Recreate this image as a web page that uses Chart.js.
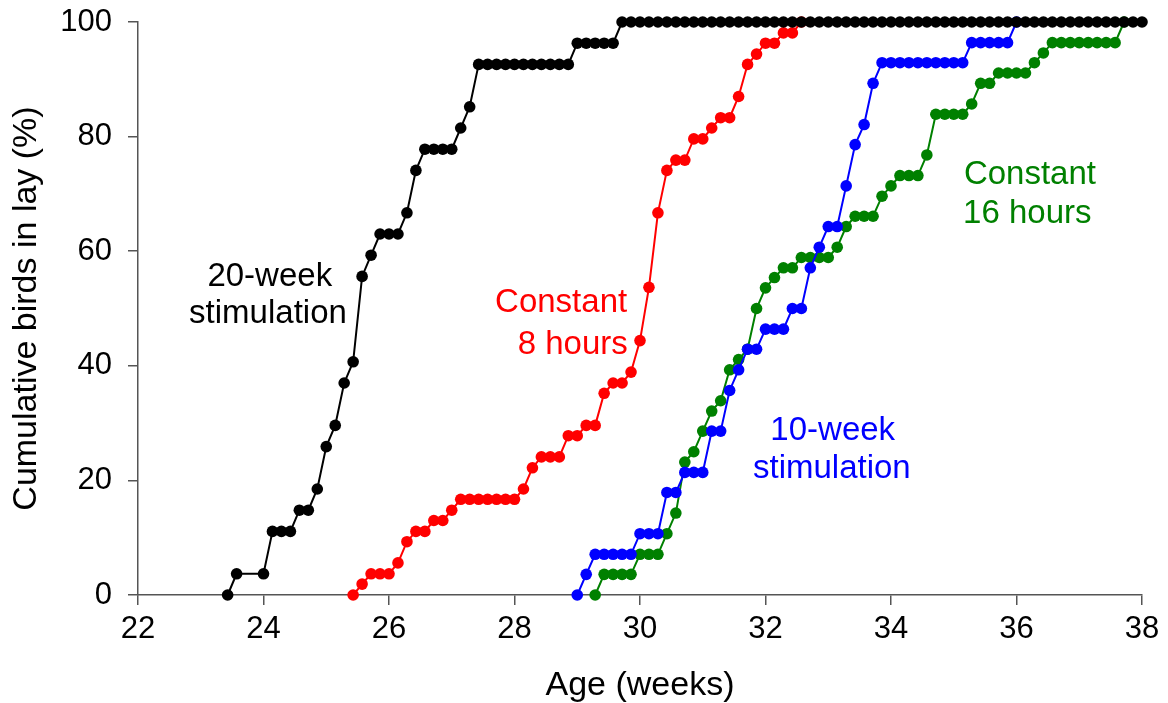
<!DOCTYPE html>
<html>
<head>
<meta charset="utf-8">
<script src="https://cdn.jsdelivr.net/npm/chart.js@4/dist/chart.umd.min.js"></script>
<style>
  body { margin: 0; background: #fff; }
  canvas { display: block; }
</style>
</head>
<body>
<canvas id="lay-chart" width="1168" height="703"></canvas>
<script>
// age in days, cumulative birds in lay (%)
var age20wk = [164, 165, 168, 169, 170, 171, 172, 173, 174, 175, 176, 177, 178, 179, 180, 181, 182, 183, 184, 185,
  186, 187, 188, 189, 190, 191, 192, 193, 194, 195, 196, 197, 198, 199, 200, 201, 202, 203, 204, 205, 206, 207,
  208, 209, 210, 211, 212, 213, 214, 215, 216, 217, 218, 219, 220, 221, 222, 223, 224, 225, 226, 227, 228, 229,
  230, 231, 232, 233, 234, 235, 236, 237, 238, 239, 240, 241, 242, 243, 244, 245, 246, 247, 248, 249, 250, 251,
  252, 253, 254, 255, 256, 257, 258, 259, 260, 261, 262, 263, 264, 265, 266];
var lay20wk = [0, 3.7, 3.7, 11.1, 11.1, 11.1, 14.8, 14.8, 18.5, 25.9, 29.6, 37.0, 40.7, 55.6, 59.3, 63.0, 63.0, 63.0, 66.7, 74.1,
  77.8, 77.8, 77.8, 77.8, 81.5, 85.2, 92.6, 92.6, 92.6, 92.6, 92.6, 92.6, 92.6, 92.6, 92.6, 92.6, 92.6, 96.3, 96.3, 96.3, 96.3, 96.3,
  100, 100, 100, 100, 100, 100, 100, 100, 100, 100, 100, 100, 100, 100, 100, 100, 100, 100, 100, 100, 100, 100,
  100, 100, 100, 100, 100, 100, 100, 100, 100, 100, 100, 100, 100, 100, 100, 100, 100, 100, 100, 100, 100, 100,
  100, 100, 100, 100, 100, 100, 100, 100, 100, 100, 100, 100, 100, 100, 100];

var ageC8 = [178, 179, 180, 181, 182, 183, 184, 185, 186, 187, 188, 189, 190, 191, 192, 193, 194, 195, 196, 197,
  198, 199, 200, 201, 202, 203, 204, 205, 206, 207, 208, 209, 210, 211, 212, 213, 214, 215, 216, 217,
  218, 219, 220, 221, 222, 223, 224, 225, 226, 227, 228];
var layC8 = [0, 1.9, 3.7, 3.7, 3.7, 5.6, 9.3, 11.1, 11.1, 13.0, 13.0, 14.8, 16.7, 16.7, 16.7, 16.7, 16.7, 16.7, 16.7, 18.5,
  22.2, 24.1, 24.1, 24.1, 27.8, 27.8, 29.6, 29.6, 35.2, 37.0, 37.0, 38.9, 44.4, 53.7, 66.7, 74.1, 75.9, 75.9, 79.6, 79.6,
  81.5, 83.3, 83.3, 87.0, 92.6, 94.4, 96.3, 96.3, 98.1, 98.1, 100];

var age10wk = [203, 204, 205, 206, 207, 208, 209, 210, 211, 212, 213, 214, 215, 216, 217, 218, 219, 220, 221, 222,
  223, 224, 225, 226, 227, 228, 229, 230, 231, 232, 233, 234, 235, 236, 237, 238, 239, 240, 241, 242,
  243, 244, 245, 246, 247, 248, 249, 250, 251, 252];
var lay10wk = [0, 3.6, 7.1, 7.1, 7.1, 7.1, 7.1, 10.7, 10.7, 10.7, 17.9, 17.9, 21.4, 21.4, 21.4, 28.6, 28.6, 35.7, 39.3, 42.9,
  42.9, 46.4, 46.4, 46.4, 50.0, 50.0, 57.1, 60.7, 64.3, 64.3, 71.4, 78.6, 82.1, 89.3, 92.9, 92.9, 92.9, 92.9, 92.9, 92.9,
  92.9, 92.9, 92.9, 92.9, 96.4, 96.4, 96.4, 96.4, 96.4, 100];

var ageC16 = [205, 206, 207, 208, 209, 210, 211, 212, 213, 214, 215, 216, 217, 218, 219, 220, 221, 222, 223, 224,
  225, 226, 227, 228, 229, 230, 231, 232, 233, 234, 235, 236, 237, 238, 239, 240, 241, 242, 243, 244,
  245, 246, 247, 248, 249, 250, 251, 252, 253, 254, 255, 256, 257, 258, 259, 260, 261, 262, 263, 264];
var layC16 = [0, 3.6, 3.6, 3.6, 3.6, 7.1, 7.1, 7.1, 10.7, 14.3, 23.2, 25.0, 28.6, 32.1, 33.9, 39.3, 41.1, 42.9, 50.0, 53.6,
  55.4, 57.1, 57.1, 58.9, 58.9, 58.9, 58.9, 60.7, 64.3, 66.1, 66.1, 66.1, 69.6, 71.4, 73.2, 73.2, 73.2, 76.8, 83.9, 83.9,
  83.9, 83.9, 85.7, 89.3, 89.3, 91.1, 91.1, 91.1, 91.1, 92.9, 94.6, 96.4, 96.4, 96.4, 96.4, 96.4, 96.4, 96.4, 96.4, 100];

var xTicksDays = { min: 154, max: 266, step: 14 };

function pts(ages, vals) {
  return ages.map(function (a, i) { return { x: a, y: vals[i] }; });
}

function series(label, ages, vals, color) {
  return {
    label: label,
    data: pts(ages, vals),
    borderColor: color,
    backgroundColor: color,
    borderWidth: 2,
    pointRadius: 5.8,
    pointBorderWidth: 0,
    pointBackgroundColor: color,
    tension: 0,
    clip: false
  };
}

// text labels next to the curves, placed in data units (days, %)
var notes = [
  { text: '20-week', x: 168.7, y: 55.6, color: '#000000' },
  { text: 'stimulation', x: 168.5, y: 49.0, color: '#000000' },
  { text: 'Constant', x: 201.2, y: 50.9, color: '#ff0000' },
  { text: '8 hours', x: 202.5, y: 43.7, color: '#ff0000' },
  { text: '10-week', x: 231.5, y: 28.6, color: '#0000ff' },
  { text: 'stimulation', x: 231.4, y: 22.0, color: '#0000ff' },
  { text: 'Constant', x: 253.5, y: 73.4, color: '#008000' },
  { text: '16 hours', x: 253.2, y: 66.5, color: '#008000' }
];

var notesPlugin = {
  id: 'notes',
  afterDatasetsDraw: function (chart) {
    var ctx = chart.ctx;
    var xs = chart.scales.x, ys = chart.scales.y;
    ctx.save();
    ctx.font = '33px "Liberation Sans", Arial, sans-serif';
    ctx.textAlign = 'center';
    ctx.textBaseline = 'middle';
    notes.forEach(function (n) {
      ctx.fillStyle = n.color;
      ctx.fillText(n.text, xs.getPixelForValue(n.x), ys.getPixelForValue(n.y));
    });
    ctx.restore();
  }
};

Chart.defaults.font.family = '"Liberation Sans", Arial, sans-serif';
Chart.defaults.color = '#000';

window.onload = function () {
  var ctx = document.getElementById('lay-chart').getContext('2d');
  new Chart(ctx, {
    type: 'line',
    data: {
      datasets: [
        series('20-week stimulation', age20wk, lay20wk, '#000000'),
        series('Constant 8 hours', ageC8, layC8, '#ff0000'),
        series('10-week stimulation', age10wk, lay10wk, '#0000ff'),
        series('Constant 16 hours', ageC16, layC16, '#008000')
      ]
    },
    options: {
      responsive: false,
      animation: false,
      layout: { padding: { top: 22, right: 26, left: 0, bottom: 0 } },
      plugins: { legend: { display: false }, tooltip: { enabled: false } },
      scales: {
        x: {
          type: 'linear',
          min: xTicksDays.min,
          max: xTicksDays.max,
          afterFit: function (s) {
            s.height = 108;
            s.paddingLeft = 0;
            s.paddingRight = 0;
          },
          ticks: {
            stepSize: xTicksDays.step,
            padding: 6,
            font: { size: 31 },
            color: '#000',
            callback: function (v) { return v / 7; }
          },
          grid: { drawOnChartArea: false, drawTicks: true, tickLength: 10, color: '#555', lineWidth: 1.5 },
          border: { color: '#555', width: 1.5 },
          title: { display: true, text: 'Age (weeks)', font: { size: 34, lineHeight: 1 }, color: '#000', padding: 0 }
        },
        y: {
          min: 0,
          max: 100,
          afterFit: function (s) {
            s.width = 138;
            s.paddingTop = 0;
            s.paddingBottom = 0;
          },
          ticks: { stepSize: 20, padding: 16, font: { size: 31 }, color: '#000' },
          grid: { drawOnChartArea: false, drawTicks: true, tickLength: 10, color: '#555', lineWidth: 1.5 },
          border: { color: '#555', width: 1.5 },
          title: { display: true, text: 'Cumulative birds in lay (%)', font: { size: 34 }, color: '#000', padding: 6 }
        }
      }
    },
    plugins: [notesPlugin]
  });
};
</script>
</body>
</html>
